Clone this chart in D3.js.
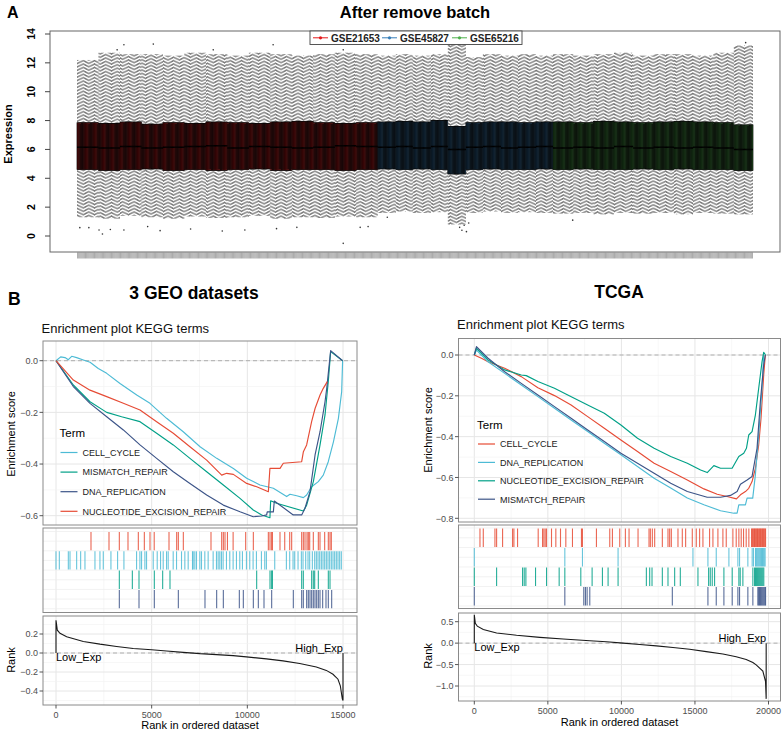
<!DOCTYPE html>
<html>
<head>
<meta charset="utf-8">
<script src="https://cdn.jsdelivr.net/npm/d3@7"></script>
<style>
  body { margin: 0; background: #fff; }
  text { font-family: "Liberation Sans", Arial, Helvetica, sans-serif; }
</style>
</head>
<body>
<svg id="fig" width="784" height="731"></svg>
<script>
// ---------------- Panel A data (box statistics read along each batch) ----------------
const batchNames = ["GSE21653", "GSE45827", "GSE65216"];
const batchColors = ["#e41a1c", "#377eb8", "#4daf4a"];
const batchSizes = [266, 155, 177];

// each row = one batch, each entry = one run of neighbouring samples
const whiskerHigh = [
  [12.2, 12.7, 12.6, 12.6, 12.5, 12.7, 12.6, 12.5, 12.7, 12.6, 12.5, 12.6, 12.7, 12.6],
  [12.5, 12.6, 12.5, 12.6, 13.3, 12.4, 12.6, 12.5, 12.6, 12.5],
  [12.6, 12.5, 12.6, 12.7, 12.5, 12.6, 12.6, 12.5, 12.7, 13.2]
];
const upperHinge = [
  [7.85, 7.8, 7.9, 7.75, 7.85, 7.8, 7.9, 7.85, 7.8, 7.9, 7.95, 7.85, 7.8, 7.85],
  [7.9, 7.95, 7.9, 8.0, 7.6, 7.85, 7.9, 7.9, 7.85, 7.9],
  [7.9, 7.85, 7.95, 7.9, 7.85, 7.9, 7.95, 7.9, 7.85, 7.7]
];
const medians = [
  [6.15, 6.1, 6.2, 6.1, 6.15, 6.2, 6.25, 6.1, 6.2, 6.15, 6.1, 6.15, 6.25, 6.2],
  [6.15, 6.2, 6.1, 6.2, 6.0, 6.15, 6.2, 6.1, 6.15, 6.2],
  [6.1, 6.15, 6.1, 6.2, 6.1, 6.15, 6.1, 6.15, 6.1, 6.0]
];
const lowerHinge = [
  [4.6, 4.55, 4.6, 4.65, 4.55, 4.6, 4.55, 4.6, 4.65, 4.55, 4.6, 4.6, 4.55, 4.6],
  [4.65, 4.6, 4.65, 4.6, 4.3, 4.6, 4.65, 4.6, 4.6, 4.65],
  [4.6, 4.65, 4.6, 4.6, 4.65, 4.6, 4.65, 4.6, 4.6, 4.55]
];
const whiskerLow = [
  [1.3, 1.2, 1.4, 1.3, 1.2, 1.35, 1.25, 1.3, 1.4, 1.2, 1.3, 1.25, 1.35, 1.3],
  [1.6, 1.7, 1.6, 1.65, 0.8, 1.6, 1.7, 1.6, 1.65, 1.6],
  [1.55, 1.6, 1.5, 1.6, 1.55, 1.6, 1.5, 1.6, 1.55, 1.5]
];
// outliers: sample index (over all samples) and value
const outlierSample = [2, 10, 19, 22, 29, 41, 62, 73, 100, 128, 148, 176, 194, 235, 250, 257,
  35, 41, 67, 120, 173, 235, 274, 338, 340, 342, 344, 346, 438, 591];
const outlierValue = [0.58, 0.58, 0.42, 0.14, 0.45, 0.42, 0.65, 0.37, 0.49, 0.35, 0.42, 0.51, 0.6, -0.51, 0.6, 0.65,
  12.9, 13.26, 13.3, 12.9, 13.26, 12.9, 1.3, 0.6, 0.4, 0.75, 0.3, 0.9, 1.1, 13.4];
const exprTicks = [0, 2, 4, 6, 8, 10, 12, 14];

// ---------------- Panel B data: 3 GEO datasets ----------------
const geoTerms = ["CELL_CYCLE", "MISMATCH_REPAIR", "DNA_REPLICATION", "NUCLEOTIDE_EXCISION_REPAIR"];
const geoColors = ["#4DBBD5", "#00A087", "#3C5488", "#E64B35"];
const geoEsCell = [[0,0],[244,0.015],[470,0.012],[645,0.004],[820,0.017],[1080,0.012],[1430,0.003],[1780,-0.006],[2210,-0.03],[2650,-0.049],[3345,-0.088],[4220,-0.133],[4910,-0.165],[5780,-0.223],[6650,-0.275],[7530,-0.333],[8400,-0.378],[9270,-0.417],[9965,-0.455],[10660,-0.481],[11360,-0.494],[12055,-0.526],[12230,-0.517],[12580,-0.523],[12930,-0.53],[13100,-0.52],[13360,-0.488],[13710,-0.468],[13970,-0.443],[14230,-0.391],[14500,-0.314],[14760,-0.223],[14930,-0.12],[14980,0]];
const geoEsMis = [[0,0],[906,-0.094],[1777,-0.159],[2650,-0.2],[3430,-0.217],[4390,-0.236],[5260,-0.281],[6130,-0.326],[7000,-0.378],[7875,-0.43],[8745,-0.481],[9617,-0.533],[10310,-0.578],[10750,-0.597],[11180,-0.608],[11220,-0.542],[11530,-0.552],[12930,-0.582],[13100,-0.559],[13450,-0.468],[13800,-0.326],[14060,-0.21],[14230,-0.081],[14355,0.035],[14980,0]];
const geoEsDna = [[0,0],[906,-0.1],[1777,-0.165],[2650,-0.217],[3520,-0.268],[4390,-0.326],[5260,-0.378],[6130,-0.43],[7000,-0.475],[7875,-0.52],[8745,-0.559],[9617,-0.585],[10310,-0.604],[10750,-0.601],[11010,-0.597],[11040,-0.585],[11360,-0.585],[11410,-0.543],[12400,-0.597],[12840,-0.597],[13010,-0.572],[13275,-0.507],[13540,-0.365],[13800,-0.275],[14060,-0.159],[14150,-0.107],[14355,0.039],[14980,0]];
const geoEsNer = [[0,0],[906,-0.075],[1777,-0.114],[2650,-0.139],[3520,-0.165],[4390,-0.191],[5260,-0.236],[6130,-0.281],[7000,-0.333],[7875,-0.385],[8660,-0.443],[8920,-0.436],[9270,-0.44],[9965,-0.475],[10490,-0.488],[11100,-0.507],[11180,-0.417],[11710,-0.417],[11880,-0.397],[12840,-0.391],[12930,-0.352],[13100,-0.326],[13360,-0.236],[13540,-0.185],[13800,-0.133],[13970,-0.107],[14180,-0.081]];
const geoHitsCell = [0,174,644,731,1079,1288,1514,2036,2297,2471,2871,3219,3550,4211,4385,4472,4646,4733,5081,5290,5464,5603,5777,5864,6125,6299,6560,6734,6908,7134,7169,7256,7343,7517,7604,7778,7952,8213,8387,8474,8561,8648,8735,8909,9083,9257,9431,9605,9744,9953,10127,10301,10475,10736,10910,10997,11432,12041,12215,12389,12476,12650,12824,12911,13050,13172,13259,13398,13520,13607,13694,13781,13868,13955,14042,14129,14216,14303,14390,14477,14564,14651,14738,14825,14912];
const geoHitsMis = [3310,3990,4338,5139,5575,5958,10488,11185,11272,11310,12840,12927,13362,13449,13520,13711,14233,14321];
const geoHitsDna = [3310,4338,5139,6394,7787,8397,8746,9582,9791,10314,10575,10871,11272,12404,12840,12927,13101,13188,13275,13362,13449,13536,13624,13711,13798,13937,14111,14233,14408];
const geoHitsNer = [1829,2770,3310,3763,4303,4617,4913,5133,5906,6307,6394,6655,8101,8659,8746,8833,8961,9257,9913,10314,11098,11185,11272,11310,11707,11954,12215,12317,12840,12927,13014,13120,13188,13259,13449,13711,13798,14042,14233,14321,14390];
const geoRank = [[0,0.345],[70,0.24],[209,0.207],[557,0.172],[1427,0.121],[2297,0.093],[3167,0.069],[4037,0.048],[5000,0.034],[5777,0.021],[6647,0.007],[7517,-0.007],[8387,-0.017],[9257,-0.028],[9953,-0.041],[11000,-0.062],[11867,-0.083],[12737,-0.11],[13607,-0.148],[14129,-0.183],[14477,-0.224],[14738,-0.276],[14860,-0.345],[14964,-0.483],[15000,-0.5]];

// ---------------- Panel B data: TCGA ----------------
const tcgaTerms = ["CELL_CYCLE", "DNA_REPLICATION", "NUCLEOTIDE_EXCISION_REPAIR", "MISMATCH_REPAIR"];
const tcgaColors = ["#E64B35", "#4DBBD5", "#00A087", "#3C5488"];
const tcgaEsCell = [[0,0],[485,-0.016],[937,-0.033],[2065,-0.065],[3194,-0.106],[4323,-0.16],[5451,-0.199],[6580,-0.245],[7709,-0.302],[8837,-0.359],[9966,-0.416],[11095,-0.473],[12223,-0.53],[13352,-0.571],[14481,-0.612],[15609,-0.656],[16512,-0.682],[17190,-0.693],[17822,-0.705],[18093,-0.685],[18431,-0.669],[18657,-0.653],[18883,-0.62],[19108,-0.555],[19334,-0.44],[19492,-0.31],[19673,-0.098],[19785,0]];
const tcgaEsDna = [[0,0],[147,0.024],[937,-0.033],[2065,-0.09],[3194,-0.147],[4323,-0.204],[5451,-0.261],[6580,-0.318],[7709,-0.375],[8837,-0.432],[9966,-0.489],[11095,-0.546],[12223,-0.604],[13352,-0.652],[14481,-0.701],[15609,-0.734],[16738,-0.763],[17641,-0.775],[17867,-0.775],[17980,-0.734],[18431,-0.734],[18544,-0.701],[18928,-0.701],[19108,-0.587],[19334,-0.392],[19560,-0.163],[19673,0]];
const tcgaEsNer = [[0,0],[147,0.033],[937,-0.024],[2065,-0.073],[3194,-0.098],[3533,-0.101],[4323,-0.13],[5451,-0.163],[6354,-0.196],[7709,-0.245],[8837,-0.285],[9966,-0.343],[11095,-0.408],[12223,-0.457],[13352,-0.497],[14481,-0.53],[15384,-0.563],[15835,-0.576],[16286,-0.542],[16738,-0.555],[17528,-0.555],[17980,-0.497],[18318,-0.481],[18500,-0.457],[18657,-0.392],[18883,-0.375],[19108,-0.294],[19334,-0.163],[19560,-0.033],[19673,0.013],[19800,0]];
const tcgaEsMis = [[0,0],[147,0.041],[937,-0.016],[2065,-0.082],[3194,-0.139],[4323,-0.196],[5451,-0.253],[6580,-0.31],[7709,-0.367],[8837,-0.424],[9966,-0.481],[11095,-0.53],[12223,-0.579],[13352,-0.628],[14481,-0.669],[15835,-0.697],[16738,-0.697],[17416,-0.688],[17867,-0.669],[18093,-0.633],[18544,-0.612],[18883,-0.595],[19221,-0.457],[19447,-0.228],[19673,-0.049],[19785,0]];
const tcgaHitsCell = [385,611,1403,1516,1923,2602,2692,2941,4344,4638,4729,4819,4910,5249,5543,5860,6222,6674,7285,7353,8303,9208,9389,9887,10271,10520,11131,11878,11968,12104,12262,12783,13167,13281,13394,13846,14140,14367,14819,15090,15317,15543,15995,16222,16561,16900,17127,17579,17805,17986,18145,18303,18484,18665,18850,18900,18950,19000,19050,19100,19150,19200,19250,19300,19350,19400,19450,19500,19550,19600,19650,19700,19750,19800];
const tcgaHitsDna = [0,6154,7353,9774,14864,15882,16448,17308,17919,18032,18597,18891,18982,19118,19170,19230,19290,19350,19410,19470,19530,19590,19650,19710,19770];
const tcgaHitsNer = [0,1516,3281,3394,3507,4163,4910,5769,6154,7240,8009,8710,9095,9774,11697,11923,12081,12783,13167,13620,14005,15204,15928,16041,16176,16335,16968,17534,17986,18077,18258,18937,19050,19120,19190,19260,19330,19400,19470,19540,19610,19680];
const tcgaHitsMis = [0,6154,7443,7557,7670,7851,13462,15882,16448,16968,17534,17919,18032,18597,18937,19276,19330,19390,19450,19510,19570,19630,19690,19750,19800];
const tcgaRank = [[0,0.66],[68,0.46],[204,0.397],[611,0.317],[1516,0.238],[2873,0.183],[4457,0.135],[6041,0.095],[7851,0.056],[8982,0.032],[10113,0],[11244,-0.032],[12376,-0.063],[13507,-0.103],[14638,-0.143],[15769,-0.198],[16900,-0.254],[17805,-0.317],[18484,-0.381],[18937,-0.452],[19163,-0.508],[19615,-0.651],[19796,-0.889],[19842,-1.3]];

// =====================================================================
const svg = d3.select("#fig");

// ---------------- Panel A ----------------
const gA = svg.append("g");
const nSamples = d3.sum(batchSizes);
const batchStart = d3.cumsum([0, ...batchSizes]);
const xA = d3.scaleBand().domain(d3.range(nSamples)).range([77, 753]);
const yA = d3.scaleLinear().domain([0, 14]).range([236, 34]);
const step = xA.step();

const samples = [];
batchSizes.forEach((n, b) => {
  const nb = whiskerHigh[b].length;
  for (let j = 0; j < n; j++) {
    const k = Math.floor(j * nb / n);
    samples.push({
      i: batchStart[b] + j, b: b,
      hi: whiskerHigh[b][k], q3: upperHinge[b][k], med: medians[b][k],
      q1: lowerHinge[b][k], lo: whiskerLow[b][k]
    });
  }
});

gA.append("text").attr("x", 7).attr("y", 17.5).attr("font-size", 16).attr("font-weight", "bold").text("A");
gA.append("text").attr("x", 415).attr("y", 17.5).attr("text-anchor", "middle")
  .attr("font-size", 16.5).attr("font-weight", "bold").text("After remove batch");

// whiskers (dashed)
const wOff = d => Math.abs(d.i % 10 - 5) * 0.55;
gA.append("g").selectAll("line").data(samples).join("line")
  .attr("x1", d => xA(d.i) + step / 2).attr("x2", d => xA(d.i) + step / 2)
  .attr("y1", d => yA(d.q3)).attr("y2", d => yA(d.hi))
  .attr("stroke", "#1a1a1a").attr("stroke-width", 0.6)
  .attr("stroke-dasharray", "1.8,1.6").attr("stroke-dashoffset", wOff);
gA.append("g").selectAll("line").data(samples).join("line")
  .attr("x1", d => xA(d.i) + step / 2).attr("x2", d => xA(d.i) + step / 2)
  .attr("y1", d => yA(d.q1)).attr("y2", d => yA(d.lo))
  .attr("stroke", "#1a1a1a").attr("stroke-width", 0.6)
  .attr("stroke-dasharray", "1.8,1.6").attr("stroke-dashoffset", wOff);

// boxes
gA.append("g").selectAll("rect").data(samples).join("rect")
  .attr("x", d => xA(d.i)).attr("width", step)
  .attr("y", d => yA(d.q3)).attr("height", d => yA(d.q1) - yA(d.q3))
  .attr("fill", d => d3.color(batchColors[d.b]).darker(1.4))
  .attr("stroke", "#000").attr("stroke-width", 0.7);

// medians
gA.append("g").selectAll("line").data(samples).join("line")
  .attr("x1", d => xA(d.i)).attr("x2", d => xA(d.i) + step)
  .attr("y1", d => yA(d.med)).attr("y2", d => yA(d.med))
  .attr("stroke", "#000").attr("stroke-width", 1.6);

// outliers
gA.append("g").selectAll("circle").data(outlierSample).join("circle")
  .attr("cx", d => xA(d) + step / 2).attr("cy", (d, k) => yA(outlierValue[k]))
  .attr("r", 0.8).attr("fill", "#333").attr("stroke", "none");

// frame
gA.append("rect").attr("x", 50).attr("y", 31).attr("width", 730).attr("height", 221)
  .attr("fill", "none").attr("stroke", "#666").attr("stroke-width", 1);

// x axis: one tick per sample
gA.append("g").selectAll("line").data(samples).join("line")
  .attr("x1", d => xA(d.i) + step / 2).attr("x2", d => xA(d.i) + step / 2)
  .attr("y1", 252.5).attr("y2", 258.5).attr("stroke", "#555").attr("stroke-width", 0.5);

// y axis
const yAx = gA.append("g");
yAx.selectAll("line").data(exprTicks).join("line")
  .attr("x1", 45).attr("x2", 50).attr("y1", d => yA(d)).attr("y2", d => yA(d))
  .attr("stroke", "#444");
yAx.selectAll("text").data(exprTicks).join("text")
  .attr("transform", d => `translate(31,${yA(d)}) rotate(-90)`)
  .attr("text-anchor", "middle").attr("dominant-baseline", "central")
  .attr("font-size", 10.5).attr("font-weight", "bold").text(d => d);
gA.append("text").attr("transform", "translate(8,134) rotate(-90)")
  .attr("text-anchor", "middle").attr("dominant-baseline", "central")
  .attr("font-size", 11).attr("font-weight", "bold").text("Expression");

// legend
const leg = gA.append("g");
leg.append("rect").attr("x", 310).attr("y", 31).attr("width", 212).attr("height", 13.5)
  .attr("fill", "#fff").attr("stroke", "#444").attr("stroke-width", 0.9);
const legX = [313, 382, 452];
batchNames.forEach((nm, b) => {
  const x0 = legX[b];
  leg.append("line").attr("x1", x0).attr("x2", x0 + 15).attr("y1", 37.8).attr("y2", 37.8)
    .attr("stroke", batchColors[b]).attr("stroke-width", 1);
  leg.append("circle").attr("cx", x0 + 7.5).attr("cy", 37.8).attr("r", 1.6).attr("fill", batchColors[b]);
  leg.append("text").attr("x", x0 + 18).attr("y", 41.5).attr("font-size", 10)
    .attr("font-weight", "bold").attr("fill", "#222").text(nm);
});

svg.append("text").attr("x", 8).attr("y", 305).attr("font-size", 17.5).attr("font-weight", "bold").text("B");

// ---------------- Panel B: GSEA plots ----------------
function drawGsea(c) {
  const g = svg.append("g");
  const x = d3.scaleLinear().domain(c.xDomain).range(c.xRange);
  const es = d3.scaleLinear().domain(c.esDomain).range(c.esRange);
  const rk = d3.scaleLinear().domain(c.rkDomain).range(c.rkRange);
  const W = c.right - c.left;

  g.append("text").attr("x", c.cx).attr("y", c.headY).attr("text-anchor", "middle")
    .attr("font-size", 17.5).attr("font-weight", "bold").text(c.header);
  g.append("text").attr("x", c.left - 1.5).attr("y", c.titleY).attr("font-size", 13)
    .attr("fill", "#111").text("Enrichment plot KEGG terms");

  const panels = [[c.esTop, c.esBottom], [c.hitTop, c.hitBottom], [c.rkTop, c.rkBottom]];
  panels.forEach(([t, b]) => {
    g.append("rect").attr("x", c.left).attr("y", t).attr("width", W).attr("height", b - t).attr("fill", "#fff");
    g.append("g").selectAll("line").data(c.xMinor).join("line")
      .attr("x1", d => x(d)).attr("x2", d => x(d)).attr("y1", t).attr("y2", b)
      .attr("stroke", "#f2f2f2").attr("stroke-width", 0.6);
    g.append("g").selectAll("line").data(c.xTicks).join("line")
      .attr("x1", d => x(d)).attr("x2", d => x(d)).attr("y1", t).attr("y2", b)
      .attr("stroke", "#e6e6e6").attr("stroke-width", 1);
  });
  const hGrid = (vals, sc, t, b, col, sw) => {
    g.append("g").selectAll("line").data(vals.filter(v => sc(v) > t && sc(v) < b)).join("line")
      .attr("x1", c.left).attr("x2", c.right).attr("y1", d => sc(d)).attr("y2", d => sc(d))
      .attr("stroke", col).attr("stroke-width", sw);
  };
  hGrid(c.esMinor, es, c.esTop, c.esBottom, "#f2f2f2", 0.6);
  hGrid(c.esTicks, es, c.esTop, c.esBottom, "#e6e6e6", 1);
  hGrid(c.rkMinor, rk, c.rkTop, c.rkBottom, "#f2f2f2", 0.6);
  hGrid(c.rkTicks, rk, c.rkTop, c.rkBottom, "#e6e6e6", 1);
  // hits panel horizontal grid
  const rowLines = d3.range(9).map(k => c.rowTop + k * c.rowH / 2);
  g.append("g").selectAll("line").data(rowLines).join("line")
    .attr("x1", c.left).attr("x2", c.right).attr("y1", d => d).attr("y2", d => d)
    .attr("stroke", "#ececec").attr("stroke-width", 0.7);

  // ES panel
  g.append("line").attr("x1", c.left).attr("x2", c.right).attr("y1", es(0)).attr("y2", es(0))
    .attr("stroke", "#a8a8a8").attr("stroke-width", 0.9).attr("stroke-dasharray", "4,3");
  const line = d3.line().x(d => x(d[0])).y(d => es(d[1]));
  c.curves.forEach((cu, k) => {
    g.append("path").attr("d", line(cu)).attr("fill", "none")
      .attr("stroke", c.colors[k]).attr("stroke-width", 1.15).attr("stroke-linejoin", "round");
  });
  // legend
  g.append("text").attr("x", c.legX - 1).attr("y", c.legTitleY).attr("font-size", 11.5).text("Term");
  c.terms.forEach((t, k) => {
    const yy = c.legY0 + k * c.legStep;
    g.append("line").attr("x1", c.legX).attr("x2", c.legX + 17).attr("y1", yy).attr("y2", yy)
      .attr("stroke", c.colors[k]).attr("stroke-width", 1.2);
    g.append("text").attr("x", c.legX + 22).attr("y", yy + 3.3).attr("font-size", 9)
      .attr("fill", "#1a1a1a").text(t);
  });

  // hits panel
  c.rows.forEach((r, k) => {
    const top = c.rowTop + r * c.rowH;
    g.append("g").selectAll("line").data(c.hits[k]).join("line")
      .attr("x1", d => x(d)).attr("x2", d => x(d))
      .attr("y1", top + 0.5).attr("y2", top + c.rowH - 0.5)
      .attr("stroke", c.colors[k]).attr("stroke-width", 1.1).attr("stroke-opacity", 0.85);
  });

  // rank panel
  g.append("line").attr("x1", c.left).attr("x2", c.right).attr("y1", rk(0)).attr("y2", rk(0))
    .attr("stroke", "#a8a8a8").attr("stroke-width", 0.9).attr("stroke-dasharray", "4,3");
  const first = c.rank[0], last = c.rank[c.rank.length - 1];
  const rpts = [[first[0], 0], ...c.rank, [last[0], 0]];
  g.append("path").attr("d", d3.line().x(d => x(d[0])).y(d => rk(d[1]))(rpts))
    .attr("fill", "none").attr("stroke", "#1a1a1a").attr("stroke-width", 1.1);
  g.append("text").attr("x", x(first[0])).attr("y", c.lowY).attr("font-size", 11).text("Low_Exp");
  g.append("text").attr("x", x(last[0])).attr("y", c.highY).attr("text-anchor", "end")
    .attr("font-size", 11).text("High_Exp");

  // borders
  panels.forEach(([t, b]) => {
    g.append("rect").attr("x", c.left).attr("y", t).attr("width", W).attr("height", b - t)
      .attr("fill", "none").attr("stroke", "#8a8a8a").attr("stroke-width", 1);
  });

  // axes
  const yAxis = (ticks, sc) => {
    g.append("g").selectAll("line").data(ticks).join("line")
      .attr("x1", c.left - 3.5).attr("x2", c.left).attr("y1", d => sc(d)).attr("y2", d => sc(d))
      .attr("stroke", "#444").attr("stroke-width", 0.9);
    g.append("g").selectAll("text").data(ticks).join("text")
      .attr("x", c.left - 5).attr("y", d => sc(d) + 3.2).attr("text-anchor", "end")
      .attr("font-size", 9).attr("fill", "#4d4d4d").text(d => d3.format(".1f")(d));
  };
  yAxis(c.esTicks, es);
  yAxis(c.rkTicks, rk);
  g.append("g").selectAll("line").data(c.xTicks).join("line")
    .attr("x1", d => x(d)).attr("x2", d => x(d)).attr("y1", c.rkBottom).attr("y2", c.rkBottom + 3.5)
    .attr("stroke", "#444").attr("stroke-width", 0.9);
  g.append("g").selectAll("text").data(c.xTicks).join("text")
    .attr("x", d => x(d)).attr("y", c.xLabY).attr("text-anchor", "middle")
    .attr("font-size", 9).attr("fill", "#4d4d4d").text(d => d3.format("d")(d));
  g.append("text").attr("x", (c.left + c.right) / 2).attr("y", c.xTitleY).attr("text-anchor", "middle")
    .attr("font-size", 11).text("Rank in ordered dataset");
  g.append("text").attr("transform", `translate(${c.yLabX},${c.esLabY}) rotate(-90)`)
    .attr("text-anchor", "middle").attr("dominant-baseline", "central")
    .attr("font-size", 11).text("Enrichment score");
  g.append("text").attr("transform", `translate(${c.yLabX},${c.rkLabY}) rotate(-90)`)
    .attr("text-anchor", "middle").attr("dominant-baseline", "central")
    .attr("font-size", 11).text("Rank");
}

drawGsea({
  header: "3 GEO datasets", cx: 194, headY: 299, titleY: 333,
  left: 43, right: 357, esTop: 341, esBottom: 525, hitTop: 528, hitBottom: 612.5,
  rowTop: 531.5, rowH: 19.3, rkTop: 616, rkBottom: 705,
  xDomain: [0, 15000], xRange: [56, 343],
  esDomain: [0, -0.6], esRange: [360.7, 515.7],
  rkDomain: [0.2, -0.4], rkRange: [634, 691],
  esTicks: [0, -0.2, -0.4, -0.6], esMinor: [0.1, -0.1, -0.3, -0.5],
  rkTicks: [0.2, 0, -0.2, -0.4], rkMinor: [0.3, 0.1, -0.1, -0.3, -0.5],
  xTicks: [0, 5000, 10000, 15000], xMinor: [2500, 7500, 12500],
  terms: geoTerms, colors: geoColors,
  curves: [geoEsCell, geoEsMis, geoEsDna, geoEsNer],
  hits: [geoHitsCell, geoHitsMis, geoHitsDna, geoHitsNer], rows: [1, 2, 3, 0],
  rank: geoRank,
  legX: 60.5, legTitleY: 437, legY0: 452.5, legStep: 19.6,
  lowY: 661, highY: 652, xLabY: 718, xTitleY: 729,
  yLabX: 11, esLabY: 434, rkLabY: 660
});

drawGsea({
  header: "TCGA", cx: 619, headY: 298, titleY: 329,
  left: 458.5, right: 780.5, esTop: 338.5, esBottom: 522, hitTop: 525, hitBottom: 608.5,
  rowTop: 528, rowH: 19.5, rkTop: 613, rkBottom: 701,
  xDomain: [0, 20000], xRange: [474.3, 768.5],
  esDomain: [0, -0.8], esRange: [355, 518.3],
  rkDomain: [0.5, -1.0], rkRange: [621.7, 686],
  esTicks: [0, -0.2, -0.4, -0.6, -0.8], esMinor: [-0.1, -0.3, -0.5, -0.7],
  rkTicks: [0.5, 0, -0.5, -1.0], rkMinor: [0.25, -0.25, -0.75, -1.25],
  xTicks: [0, 5000, 10000, 15000, 20000], xMinor: [2500, 7500, 12500, 17500],
  terms: tcgaTerms, colors: tcgaColors,
  curves: [tcgaEsCell, tcgaEsDna, tcgaEsNer, tcgaEsMis],
  hits: [tcgaHitsCell, tcgaHitsDna, tcgaHitsNer, tcgaHitsMis], rows: [0, 1, 2, 3],
  rank: tcgaRank,
  legX: 478, legTitleY: 429, legY0: 444, legStep: 18.4,
  lowY: 651, highY: 642, xLabY: 714, xTitleY: 726,
  yLabX: 428, esLabY: 430, rkLabY: 656
});
</script>
</body>
</html>
